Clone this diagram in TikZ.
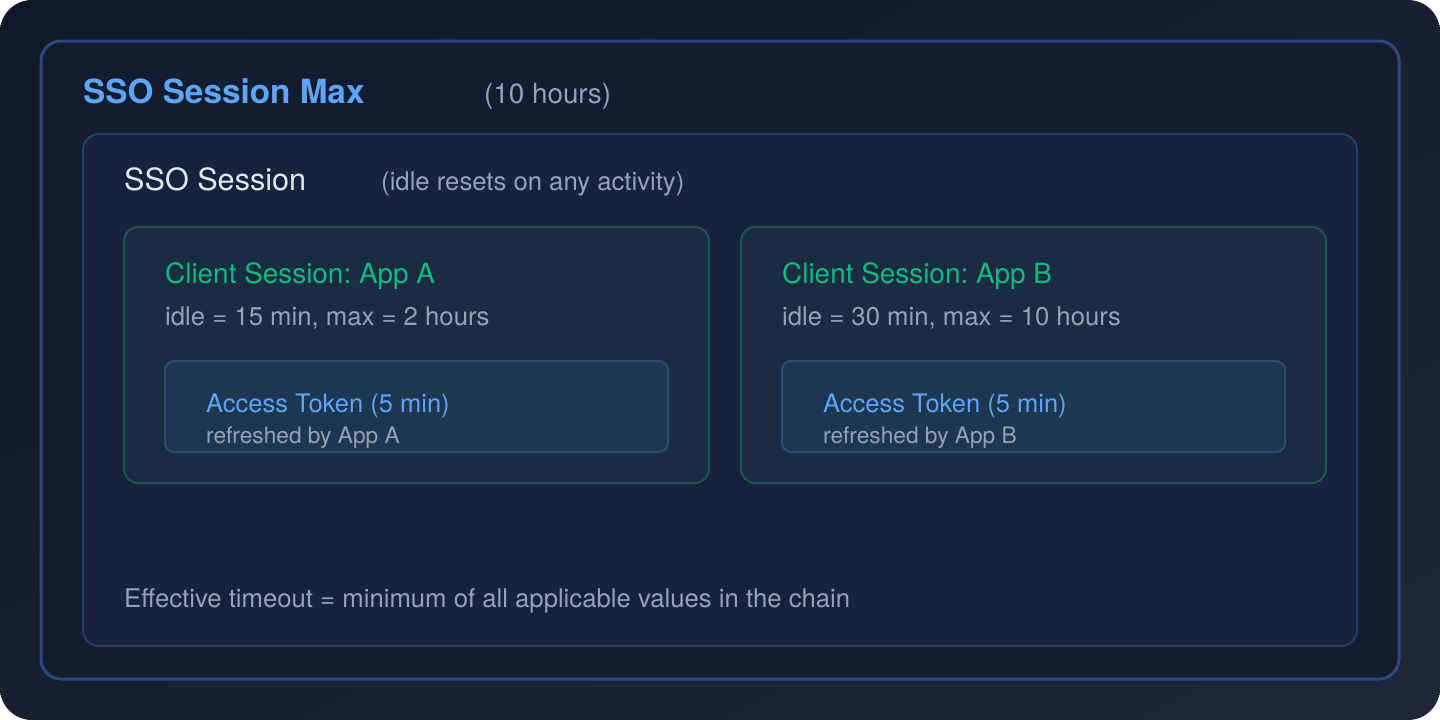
\documentclass[tikz,border=0pt]{standalone}
\usepackage{fontspec}
\setmainfont{TeX Gyre Heros}
\usetikzlibrary{shadings}
\frenchspacing
\definecolor{bgA}{HTML}{101726}
\definecolor{bgB}{HTML}{1E273A}
\definecolor{bgM}{HTML}{171F30}
\definecolor{maxline}{HTML}{284A80}
\definecolor{maxfill}{HTML}{141D30}
\definecolor{ssoline}{HTML}{213C66}
\definecolor{ssofill}{HTML}{17223D}
\definecolor{cliline}{HTML}{1B5752}
\definecolor{clifill}{HTML}{1A2C41}
\definecolor{tokline}{HTML}{2B4B73}
\definecolor{tokfill}{HTML}{1E3750}
\definecolor{tblue}{HTML}{5EA5F8}
\definecolor{tgreen}{HTML}{12B981}
\definecolor{tgray}{HTML}{94A3B8}
\definecolor{twhite}{HTML}{E2E8F0}
\tikzset{
  txt/.style={anchor=base west, inner sep=0pt},
  maxbox/.style={draw=maxline, line width=3pt, fill=maxfill, rounded corners=20pt},
  ssobox/.style={draw=ssoline, line width=2pt, fill=ssofill, rounded corners=16pt},
  clibox/.style={draw=cliline, line width=2pt, fill=clifill, rounded corners=14pt},
  tokbox/.style={draw=tokline, line width=2pt, fill=tokfill, rounded corners=9pt},
}
\begin{document}
\begin{tikzpicture}[x=1pt, y=-1pt]
\useasboundingbox (0,0) rectangle (1440,720);
\fill[white] (0,0) rectangle (1440,720);
\shade[rounded corners=32pt, upper left=bgA, lower right=bgB, upper right=bgM, lower left=bgM] (0,0) rectangle (1440,720);
% SSO Session Max
\draw[maxbox] (41,41) rectangle (1399,679);
\node[txt, text=tblue, font=\bfseries\fontsize{33.3}{36}\selectfont] (maxt) at (83,103) {SSO Session Max};
\node[txt, text=tgray, font=\fontsize{27.8}{30}\selectfont] (maxv) at (484,103) {(10 hours)};
% SSO Session
\draw[ssobox] (83,134) rectangle (1357,646);
\node[txt, text=twhite, font=\fontsize{30.6}{33}\selectfont] (ssot) at (124,190) {SSO Session};
\node[txt, text=tgray, font=\fontsize{25.7}{28}\selectfont] (ssov) at (381,190) {(idle resets on any activity)};
% Client A
\draw[clibox] (124,227) rectangle (709,483);
\node[txt, text=tgreen, font=\fontsize{27.9}{30}\selectfont] (cat) at (165,283) {Client Session: App A};
\node[txt, text=tgray, font=\fontsize{25.7}{28}\selectfont] (cav) at (165,325) {idle = 15 min, max = 2 hours};
\draw[tokbox] (165,361) rectangle (668,452);
\node[txt, text=tblue, font=\fontsize{25.5}{28}\selectfont] (tat) at (206,412) {Access Token (5 min)};
\node[txt, text=tgray, font=\fontsize{22.7}{25}\selectfont] (tav) at (206,443) {refreshed by App A};
% Client B
\draw[clibox] (741,227) rectangle (1326,483);
\node[txt, text=tgreen, font=\fontsize{27.9}{30}\selectfont] (cbt) at (782,283) {Client Session: App B};
\node[txt, text=tgray, font=\fontsize{25.7}{28}\selectfont] (cbv) at (782,325) {idle = 30 min, max = 10 hours};
\draw[tokbox] (782,361) rectangle (1285,452);
\node[txt, text=tblue, font=\fontsize{25.5}{28}\selectfont] (tbt) at (823,412) {Access Token (5 min)};
\node[txt, text=tgray, font=\fontsize{22.7}{25}\selectfont] (tbv) at (823,443) {refreshed by App B};
% footer
\node[txt, text=tgray, font=\fontsize{25.7}{28}\selectfont] (eff) at (124,607) {Effective timeout = minimum of all applicable values in the chain};
\end{tikzpicture}
\end{document}
